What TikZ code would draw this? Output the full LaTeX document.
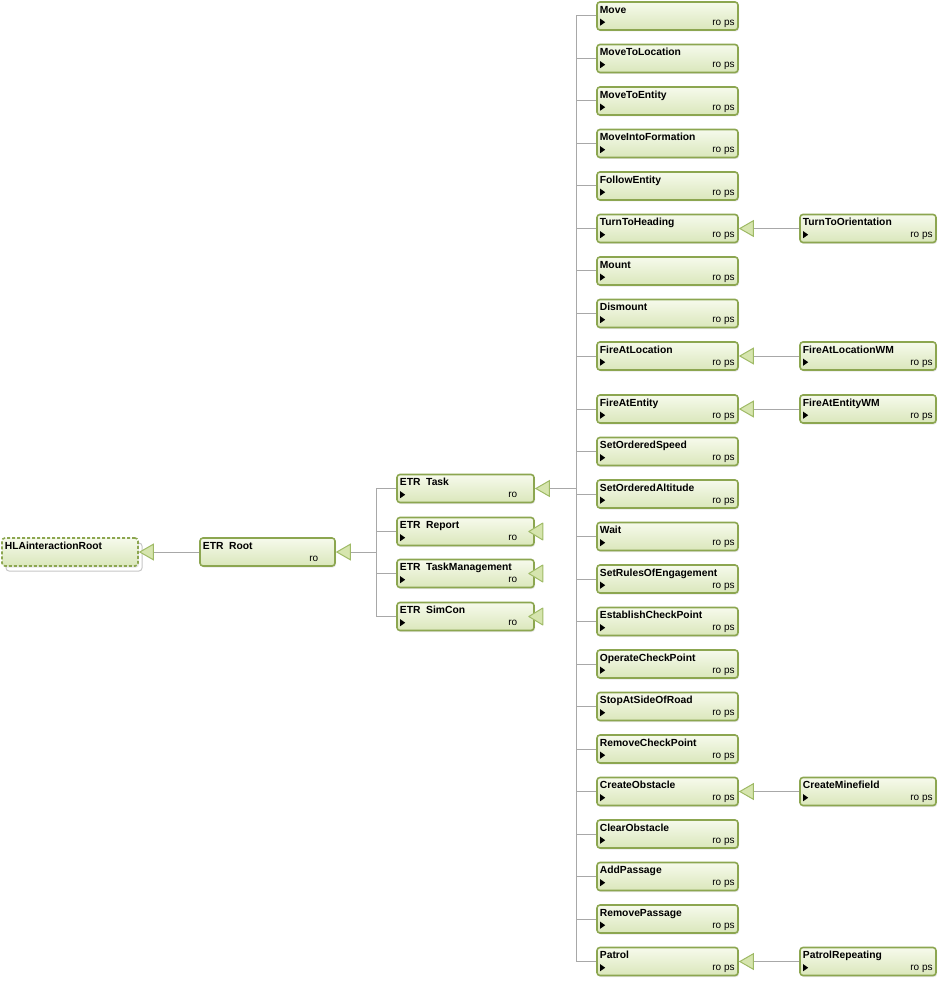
\documentclass[tikz,border=0pt]{standalone}
\usepackage{fontspec}
\setmainfont{Liberation Sans}
\usetikzlibrary{arrows.meta,shadows}

\definecolor{boxtop}{HTML}{F6FAEC}
\definecolor{boxbot}{HTML}{DAE7BB}
\definecolor{boxline}{HTML}{8CA650}
\definecolor{trifill}{HTML}{D6E5AE}
\definecolor{triline}{HTML}{9FBA66}
\definecolor{linegrey}{HTML}{A8A8A8}

\tikzset{
    clsbox/.style={rounded corners=3pt, draw=boxline, line width=1.6pt,
        top color=boxtop, bottom color=boxbot, minimum height=28pt, inner sep=0pt,
        drop shadow={shadow xshift=1pt, shadow yshift=-1.5pt, fill=black!18}},
    clstitle/.style={inner sep=0pt, font=\fontsize{10.3}{11}\selectfont\bfseries},
    clsflag/.style={inner sep=0pt, font=\fontsize{10}{11}\selectfont},
    conn/.style={draw=linegrey, line width=1pt},
    gen/.style={conn, -{Triangle[length=15pt, width=17pt, color=triline, fill=trifill, line width=1pt]}},
    collapsed/.style={draw=triline, fill=trifill, line width=1pt, line join=round},
}

% #1 name, #2 x, #3 y, #4 width, #5 title, #6 flags
\newcommand{\clsnode}[6]{%
    \node[clsbox, minimum width=#4pt] (#1) at (#2,#3) {};
    \node[clstitle, anchor=base west] (#1-title) at ([shift={(3.5,12)}]#1.north west) {#5};
    \node[clsflag, anchor=base east] (#1-flag) at ([shift={(-4,24)}]#1.north east) {#6};
    \fill ([shift={(4,17.5)}]#1.north west) -- ++(5,3.5) -- ++(-5,3.5) -- cycle;
}

\begin{document}
\begin{tikzpicture}[x=1pt, y=-1pt]
    \useasboundingbox (0,0) rectangle (941,981);

    % root of the hierarchy
    \node[draw=black!22, fill=white, rounded corners=3pt, line width=1pt,
        minimum width=136pt, minimum height=28pt] (hla-shadow) at (74,557) {};
    \node[clsbox, minimum width=136pt, dash pattern=on 3pt off 2pt, drop shadow={opacity=0}] (hla) at (70,552) {};
    \node[clstitle, anchor=base west] (hla-title) at ([shift={(3.5,12)}]hla.north west) {HLAinteractionRoot};

    \node[clsbox, minimum width=135pt] (root) at (267.5,552) {};
    \node[clstitle, anchor=base west] (root-title) at ([shift={(3.5,12)}]root.north west) {ETR\ \ Root};
    \node[clsflag, anchor=base east] (root-flag) at ([shift={(-4,24)}]root.north east) {ro\hphantom{\ ps}};

    % ETR classes
    \clsnode{task}{465.5}{488.5}{137}{ETR\ \ Task}{ro\hphantom{\ ps}}
    \clsnode{report}{465.5}{531.5}{137}{ETR\ \ Report}{ro\hphantom{\ ps}}
    \clsnode{taskmgmt}{465.5}{573.5}{137}{ETR\ \ TaskManagement}{ro\hphantom{\ ps}}
    \clsnode{simcon}{465.5}{616.5}{137}{ETR\ \ SimCon}{ro\hphantom{\ ps}}

    % tasks
    \clsnode{move}{667.5}{16}{141}{Move}{ro ps}
    \clsnode{movetoloc}{667.5}{58.5}{141}{MoveToLocation}{ro ps}
    \clsnode{movetoent}{667.5}{101}{141}{MoveToEntity}{ro ps}
    \clsnode{moveform}{667.5}{143.5}{141}{MoveIntoFormation}{ro ps}
    \clsnode{followent}{667.5}{186}{141}{FollowEntity}{ro ps}
    \clsnode{turnhead}{667.5}{228.5}{141}{TurnToHeading}{ro ps}
    \clsnode{mount}{667.5}{271}{141}{Mount}{ro ps}
    \clsnode{dismount}{667.5}{313.5}{141}{Dismount}{ro ps}
    \clsnode{fireloc}{667.5}{356}{141}{FireAtLocation}{ro ps}
    \clsnode{fireent}{667.5}{409}{141}{FireAtEntity}{ro ps}
    \clsnode{setspeed}{667.5}{451.5}{141}{SetOrderedSpeed}{ro ps}
    \clsnode{setalt}{667.5}{494}{141}{SetOrderedAltitude}{ro ps}
    \clsnode{wait}{667.5}{536.5}{141}{Wait}{ro ps}
    \clsnode{setroe}{667.5}{579}{141}{SetRulesOfEngagement}{ro ps}
    \clsnode{estcp}{667.5}{621.5}{141}{EstablishCheckPoint}{ro ps}
    \clsnode{opcp}{667.5}{664}{141}{OperateCheckPoint}{ro ps}
    \clsnode{stopside}{667.5}{706.5}{141}{StopAtSideOfRoad}{ro ps}
    \clsnode{removecp}{667.5}{749}{141}{RemoveCheckPoint}{ro ps}
    \clsnode{createobs}{667.5}{791.5}{141}{CreateObstacle}{ro ps}
    \clsnode{clearobs}{667.5}{834}{141}{ClearObstacle}{ro ps}
    \clsnode{addpass}{667.5}{876.5}{141}{AddPassage}{ro ps}
    \clsnode{removepass}{667.5}{919}{141}{RemovePassage}{ro ps}
    \clsnode{patrol}{667.5}{961.5}{141}{Patrol}{ro ps}

    % specialised tasks
    \clsnode{turnorient}{868}{228.5}{136}{TurnToOrientation}{ro ps}
    \clsnode{firelocwm}{868}{356}{136}{FireAtLocationWM}{ro ps}
    \clsnode{fireentwm}{868}{409}{136}{FireAtEntityWM}{ro ps}
    \clsnode{minefield}{868}{791.5}{136}{CreateMinefield}{ro ps}
    \clsnode{patrolrep}{868}{961.5}{136}{PatrolRepeating}{ro ps}

    % connectors
    \draw[gen] (root.west) -- (hla.east);

    \coordinate (etr-top) at (376,488.5);
    \coordinate (etr-bot) at (376,616.5);
    \coordinate (etr-join) at (376,552);
    \draw[conn] (etr-top) -- (etr-bot);
    \draw[gen] (etr-join) -- (root.east);
    \foreach \n in {task,report,taskmgmt,simcon}
        \draw[conn] (\n.west -| etr-top) -- (\n.west);

    \coordinate (bus-top) at (576,16);
    \coordinate (bus-bot) at (576,961.5);
    \coordinate (bus-task) at (576,488.5);
    \draw[conn] (bus-top) -- (bus-bot);
    \draw[gen] (bus-task) -- (task.east);
    \foreach \n in {move,movetoloc,movetoent,moveform,followent,turnhead,mount,dismount,
        fireloc,fireent,setspeed,setalt,wait,setroe,estcp,opcp,stopside,removecp,
        createobs,clearobs,addpass,removepass,patrol}
        \draw[conn] (\n.west -| bus-top) -- (\n.west);

    \draw[gen] (turnorient.west) -- (turnhead.east);
    \draw[gen] (firelocwm.west) -- (fireloc.east);
    \draw[gen] (fireentwm.west) -- (fireent.east);
    \draw[gen] (minefield.west) -- (createobs.east);
    \draw[gen] (patrolrep.west) -- (patrol.east);

    % collapsed subtrees
    \draw[collapsed] ([xshift=-6pt]report.east) -- ++(14,-8.5) -- ++(0,17) -- cycle;
    \draw[collapsed] ([xshift=-6pt]taskmgmt.east) -- ++(14,-8.5) -- ++(0,17) -- cycle;
    \draw[collapsed] ([xshift=-6pt]simcon.east) -- ++(14,-8.5) -- ++(0,17) -- cycle;
\end{tikzpicture}
\end{document}
